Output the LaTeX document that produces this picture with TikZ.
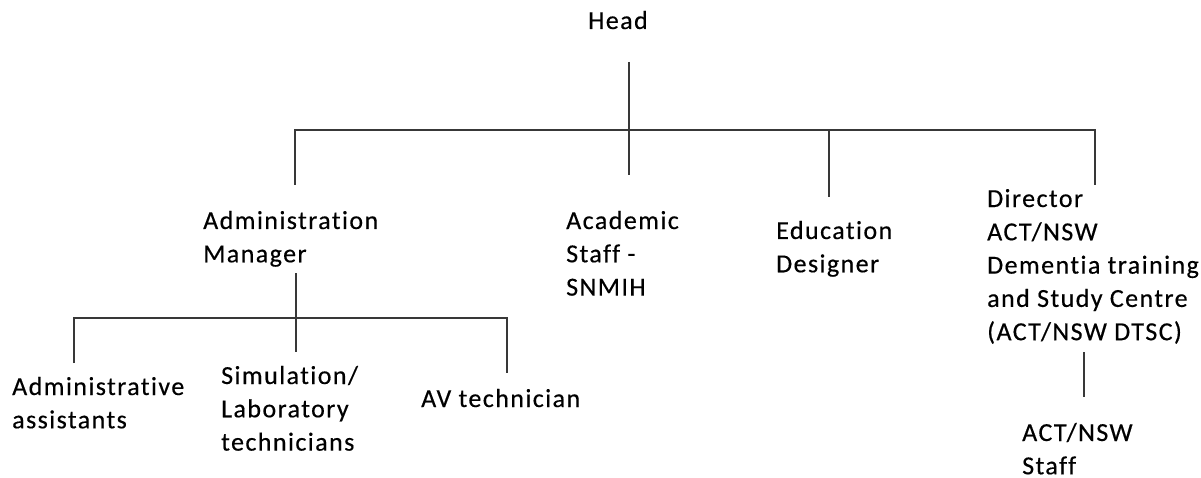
\documentclass[tikz,border=0pt]{standalone}
\usepackage{fontspec}
\setmainfont{Carlito}[LetterSpace=5.5,Ligatures=NoCommon,FakeBold=0.4]
\begin{document}
\begin{tikzpicture}[x=1pt,y=-1pt,
  lbl/.style={anchor=base west,inner sep=0pt,align=left,font=\fontsize{26}{33.3}\selectfont,text=black},
  conn/.style={line width=1.6pt,draw=black!78}]
\useasboundingbox (0,0) rectangle (1201,478);
% anchors are the baseline of the LAST line of each node
\node[lbl] (head) at (588,29) {Head};
\node[lbl] (adm) at (203,262.3) {Administration\\Manager};
\node[lbl] (aca) at (566,295.6) {Academic\\Staff -\\SNMIH};
\node[lbl] (edu) at (776,272.3) {Education\\Designer};
\node[lbl] (dir) at (987,340.2) {Director\\ACT/NSW\\Dementia training\\and Study Centre\\(ACT/NSW DTSC)};
\node[lbl] (asst) at (12,428.3) {Administrative\\assistants};
\node[lbl] (sim) at (221,450.6) {Simulation/\\Laboratory\\technicians};
\node[lbl] (av) at (421,407) {AV technician};
\node[lbl] (staff) at (1022,474.3) {ACT/NSW\\Staff};
% top-level connectors
\coordinate (htop) at (629,62);
\coordinate (hbar) at (629,130);
\coordinate (bl) at (295,130);
\coordinate (br) at (1095,130);
\coordinate (eb) at (829,130);
\coordinate (admtop) at (295,185);
\coordinate (acatop) at (629,175);
\coordinate (edutop) at (829,197);
\coordinate (dirtop) at (1095,185);
\draw[conn] (htop) -- (acatop);
\draw[conn] (admtop) -- (bl) -- (br) -- (dirtop);
\draw[conn] (eb) -- (edutop);
% admin sub-tree
\coordinate (amb) at (296,273);
\coordinate (simtop) at (296,352);
\coordinate (sl) at (74,318);
\coordinate (sr) at (507,318);
\coordinate (assttop) at (74,363);
\coordinate (avtop) at (507,373);
\draw[conn] (amb) -- (simtop);
\draw[conn] (assttop) -- (sl) -- (sr) -- (avtop);
% director to staff
\coordinate (dbot) at (1084,352);
\coordinate (stafftop) at (1084,397);
\draw[conn] (dbot) -- (stafftop);
\end{tikzpicture}
\end{document}
